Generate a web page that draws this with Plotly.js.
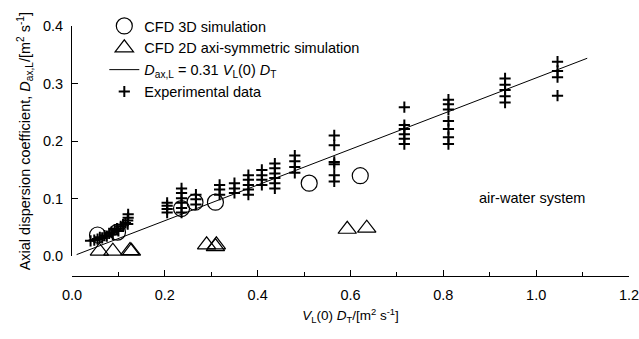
<!DOCTYPE html>
<html>
<head>
<meta charset="utf-8">
<script src="https://cdn.plot.ly/plotly-3.0.1.min.js"></script>
<style>html,body{margin:0;padding:0;background:#fff;}#chart{width:639px;height:339px;}</style>
</head>
<body>
<div id="chart"></div>
<script>
// CFD 3D simulation (circles)
const cfd3dX = [0.055, 0.098, 0.236, 0.265, 0.309, 0.511, 0.621];
const cfd3dY = [0.037, 0.042, 0.083, 0.094, 0.094, 0.127, 0.140];

// CFD 2D axi-symmetric simulation (triangles)
const cfd2dX = [0.059, 0.088, 0.125, 0.128, 0.290, 0.311, 0.309, 0.593, 0.635];
const cfd2dY = [0.009, 0.009, 0.010, 0.009, 0.020, 0.020, 0.017, 0.047, 0.049];

// Correlation line D_ax,L = 0.31 V_L(0) D_T
const fitX = [0.01, 1.11];
const fitY = [0.003, 0.344];

// Experimental data (crosses)
const expX = [
  0.040, 0.048, 0.055, 0.060, 0.065, 0.070, 0.075, 0.080, 0.085, 0.088, 0.092, 0.097, 0.100, 0.105, 0.110, 0.115, 0.120, 0.120, 0.121, 0.121,
  0.205, 0.205, 0.205, 0.205,
  0.236, 0.236, 0.236, 0.236, 0.236, 0.236,
  0.267, 0.267, 0.267,
  0.318, 0.318, 0.318,
  0.350, 0.350, 0.350,
  0.380, 0.380, 0.380, 0.380, 0.380,
  0.409, 0.409, 0.409, 0.409,
  0.437, 0.437, 0.437, 0.437, 0.437, 0.437,
  0.480, 0.480, 0.480, 0.480,
  0.565, 0.565, 0.565, 0.565, 0.565, 0.565,
  0.716, 0.716, 0.716, 0.716, 0.716, 0.716,
  0.811, 0.811, 0.811, 0.811, 0.811, 0.811, 0.811,
  0.933, 0.933, 0.933, 0.933, 0.933,
  1.046, 1.046, 1.046, 1.046
];
const expY = [
  0.027, 0.028, 0.030, 0.033, 0.032, 0.036, 0.035, 0.040, 0.042, 0.038, 0.046, 0.048, 0.044, 0.052, 0.055, 0.058, 0.056, 0.062, 0.067, 0.073,
  0.093, 0.088, 0.082, 0.076,
  0.118, 0.110, 0.101, 0.093, 0.084, 0.076,
  0.107, 0.099, 0.090,
  0.124, 0.116, 0.107,
  0.127, 0.118, 0.110,
  0.141, 0.133, 0.124, 0.116, 0.107,
  0.150, 0.141, 0.133, 0.124,
  0.161, 0.153, 0.144, 0.136, 0.127, 0.118,
  0.175, 0.165, 0.155, 0.145,
  0.210, 0.193, 0.164, 0.160, 0.141, 0.130,
  0.259, 0.228, 0.221, 0.212, 0.204, 0.195,
  0.272, 0.264, 0.255, 0.235, 0.221, 0.207, 0.195,
  0.309, 0.298, 0.289, 0.278, 0.267,
  0.338, 0.322, 0.311, 0.279
];

const xTickVals = [0.0, 0.2, 0.4, 0.6, 0.8, 1.0, 1.2];
const yTickVals = [0.0, 0.1, 0.2, 0.3, 0.4];

const FONT = 'Liberation Sans, Arial, Helvetica, sans-serif';

const traces = [
  {x: cfd3dX, y: cfd3dY, type: 'scatter', mode: 'markers', name: 'CFD 3D simulation', cliponaxis: false,
   marker: {symbol: 'circle-open', size: 16, color: '#000', line: {width: 1.2, color: '#000'}}},
  {x: cfd2dX, y: cfd2dY, type: 'scatter', mode: 'markers', name: 'CFD 2D axi-symmetric simulation', cliponaxis: false,
   marker: {symbol: 'triangle-up-open', size: 16, color: '#000', line: {width: 1.2, color: '#000'}}},
  {x: fitX, y: fitY, type: 'scatter', mode: 'lines', name: '<i>D</i><sub>ax,L</sub> = 0.31 <i>V</i><sub>L</sub>(0) <i>D</i><sub>T</sub>',
   line: {color: '#000', width: 1}},
  {x: expX, y: expY, type: 'scatter', mode: 'markers', name: 'Experimental data', cliponaxis: false,
   marker: {symbol: 'cross-thin-open', size: 8, color: '#000', line: {width: 2, color: '#000'}}}
];

const layout = {
  width: 639, height: 339,
  margin: {l: 72, r: 10, t: 22, b: 63},
  paper_bgcolor: '#fff', plot_bgcolor: '#fff',
  font: {family: FONT, size: 14.5, color: '#000'},
  showlegend: true,
  legend: {x: 0.058, y: 1.064, xanchor: 'left', yanchor: 'top', bgcolor: 'rgba(0,0,0,0)',
           font: {family: FONT, size: 14.5, color: '#000'}, traceorder: 'normal'},
  xaxis: {
    range: [0, 1.2], anchor: 'free', position: 0,
    showline: true, linecolor: '#000', linewidth: 1,
    showgrid: false, zeroline: false,
    ticks: 'inside', ticklen: 6, tickcolor: '#000', tickwidth: 1,
    tickvals: xTickVals, tickformat: '.1f',
    tickfont: {family: FONT, size: 14.5},
    ticklabeloverflow: 'allow',
    minor: {dtick: 0.1, ticks: 'inside', ticklen: 4, tickcolor: '#000', tickwidth: 1, showgrid: false},
    ticklabelstandoff: 6,
    title: {text: '<i>V</i><sub>L</sub>(0) <i>D</i><sub>T</sub>/[m<sup>2</sup> s<sup>-1</sup>]', font: {family: FONT, size: 13.5}, standoff: 8}
  },
  yaxis: {
    range: [0, 0.4], domain: [0.0787, 1], anchor: 'x',
    showline: true, linecolor: '#000', linewidth: 1,
    showgrid: false, zeroline: false,
    ticks: 'inside', ticklen: 6, tickcolor: '#000', tickwidth: 1,
    tickvals: yTickVals, tickformat: '.1f',
    tickfont: {family: FONT, size: 14.5},
    ticklabeloverflow: 'allow',
    ticklabelstandoff: 5,
    title: {text: 'Axial dispersion coefficient, <i>D</i><sub>ax,L</sub>/[m<sup>2</sup> s<sup>-1</sup>]', font: {family: FONT, size: 14.5}, standoff: 8}
  },
  annotations: [
    {x: 0.99, y: 0.101, xref: 'x', yref: 'y', text: 'air-water system', showarrow: false,
     font: {family: FONT, size: 14.5, color: '#000'}}
  ]
};

Plotly.newPlot('chart', traces, layout, {displayModeBar: false, staticPlot: true});
</script>
</body>
</html>
